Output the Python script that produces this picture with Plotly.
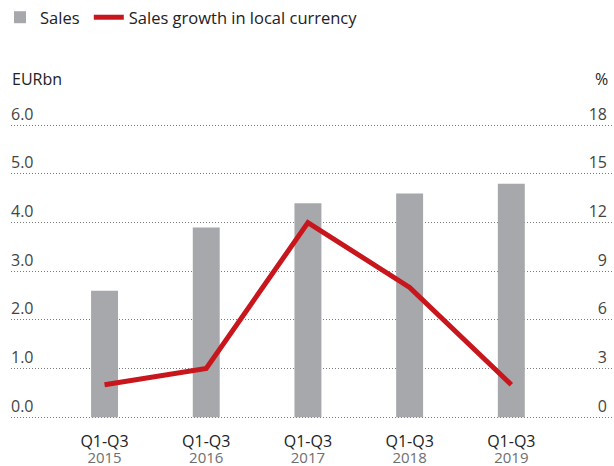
import plotly.graph_objects as go

BAR_GREY  = "#a7a8ab"
LINE_RED  = "#c8161d"
TEXT      = "#222222"
YEAR_GREY = "#6e6e6e"
GRID_GREY = "#7a7a7a"

periods = ["Q1-Q3", "Q1-Q3", "Q1-Q3", "Q1-Q3", "Q1-Q3"]
years   = ["2015", "2016", "2017", "2018", "2019"]
sales   = [2.6, 3.9, 4.4, 4.6, 4.8]      # EURbn
growth  = [2.0, 3.0, 12.0, 8.0, 2.0]     # % in local currency

y_ticks  = [0, 1, 2, 3, 4, 5, 6]
y2_ticks = [0, 3, 6, 9, 12, 15, 18]

x = list(range(len(years)))
X_RANGE = [-0.92, 5.0]

fig = go.Figure()
fig.add_trace(go.Bar(
    x=x, y=sales, name="Sales\u00a0", width=0.265,
    marker=dict(color=BAR_GREY, line=dict(width=0)),
))
fig.add_trace(go.Scatter(
    x=x, y=growth, name="Sales growth in local currency", yaxis="y2",
    mode="lines", line=dict(color=LINE_RED, width=5),
))
# invisible trace so the year axis gets drawn
fig.add_trace(go.Scatter(x=[x[0]], y=[None], xaxis="x2", showlegend=False,
                         hoverinfo="skip"))

fig.add_annotation(text="EURbn", xref="paper", yref="paper", x=0, y=1.0,
                   xanchor="left", yanchor="bottom", yshift=9, xshift=-1,
                   showarrow=False, font=dict(size=16, color=TEXT))
fig.add_annotation(text="%", xref="paper", yref="paper", x=1, y=1.0,
                   xanchor="right", yanchor="bottom", yshift=9, xshift=-3,
                   showarrow=False, font=dict(size=16, color=TEXT))

NOAX = dict(showgrid=False, zeroline=False, showline=False, ticks="",
            automargin=False)

fig.update_layout(
    width=614, height=466,
    paper_bgcolor="white", plot_bgcolor="white",
    font=dict(family="Open Sans, Arial, sans-serif", size=16, color=TEXT),
    margin=dict(l=11, r=1, t=101, b=44),
    showlegend=True,
    legend=dict(orientation="h", x=0, xanchor="left", xref="container",
                y=1, yanchor="top", yref="container",
                font=dict(size=16.5), itemwidth=30, traceorder="normal"),
    xaxis=dict(**NOAX, range=X_RANGE, tickvals=x, ticktext=periods,
               tickfont=dict(size=16, color=TEXT), ticklabelstandoff=8),
    xaxis2=dict(**NOAX, range=X_RANGE, tickvals=x, ticktext=years,
                overlaying="x", side="bottom", anchor="y",
                tickfont=dict(size=15, color=YEAR_GREY), ticklabelstandoff=25),
    yaxis=dict(range=[-0.1, 6.5], tickvals=y_ticks, tickformat=".1f",
               ticklabelposition="inside top", ticklabelstandoff=-3,
               automargin=False,
               showgrid=True, gridcolor=GRID_GREY, griddash="1px,2px", gridwidth=1,
               zeroline=False, showline=False, ticks=""),
    yaxis2=dict(**NOAX, range=[-0.3, 19.5], tickvals=y2_ticks,
                overlaying="y", side="right", ticklabelposition="inside top",
                ticklabelstandoff=3),
)

fig.write_html("out.html", config={"displayModeBar": False},
               post_script="document.body.style.margin='0';")
